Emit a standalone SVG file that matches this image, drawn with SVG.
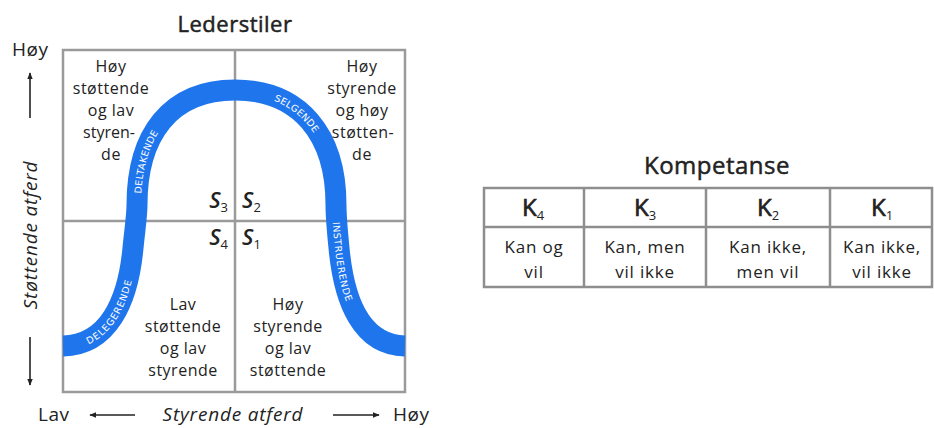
<svg xmlns="http://www.w3.org/2000/svg" width="934" height="428" viewBox="0 0 934 428">
  <defs>
    <style>
      .t { font-family: "Open Sans", "DejaVu Sans", sans-serif; fill: #222; }
      .q { font-size: 16px; text-anchor: middle; letter-spacing: 0.5px; }
      .title { font-size: 22px; text-anchor: middle; letter-spacing: 0.5px; stroke: #222; stroke-width: 0.5px; }
      .s { font-size: 22px; font-style: italic; font-weight: 600; }
      .sub { font-size: 13px; font-style: normal; font-weight: 400; }
      .ax { font-size: 19px; letter-spacing: 0.5px; }
      .axi { font-size: 19px; font-style: italic; letter-spacing: 0.8px; }
      .grid { stroke: #9a9a9a; stroke-width: 2.5; fill: none; }
      .tbl { stroke: #8e8e8e; stroke-width: 2.5; fill: none; }
      .curveLbl { font-family: "DejaVu Sans", sans-serif; font-size: 9.5px; fill: #ffffff; letter-spacing: 0.5px; }
      .arr { stroke: #222; stroke-width: 1.6; fill: none; }
      .k { font-size: 24px; text-anchor: middle; stroke: #222; stroke-width: 0.7px; }
      .ksub { font-size: 13px; stroke-width: 0; }
      .cell { font-size: 17px; text-anchor: middle; letter-spacing: 0.8px; }
    </style>
    <marker id="ah" viewBox="0 0 10 10" refX="9" refY="5" markerWidth="7" markerHeight="7" orient="auto-start-reverse" markerUnits="userSpaceOnUse">
      <path d="M0,1 L10,5 L0,9 z" fill="#222"/>
    </marker>
    <path id="bell" d="M63,346 C108,345 128,302 133,248 C135,228 137,215 137,205 C137,135 170,90 235,90 C300,90 336,135 336,205 C336,215 337,228 339,248 C344,302 362,345 405,346"/>
  </defs>

  <rect width="934" height="428" fill="#ffffff"/>

  <!-- Leadership styles chart -->
  <g id="leadership">
    <text class="t title" x="235" y="32">Lederstiler</text>
    <rect class="grid" x="63" y="50" width="342" height="342"/>
    <line class="grid" x1="235" y1="50" x2="235" y2="392"/>
    <line class="grid" x1="63" y1="221" x2="405" y2="221"/>

    <use href="#bell" fill="none" stroke="#1f76ec" stroke-width="21"/>
    <text class="curveLbl" dominant-baseline="central">
      <textPath href="#bell" startOffset="3.5%">DELEGERENDE</textPath>
    </text>
    <text class="curveLbl" dominant-baseline="central">
      <textPath href="#bell" startOffset="27%">DELTAKENDE</textPath>
    </text>
    <text class="curveLbl" dominant-baseline="central">
      <textPath href="#bell" startOffset="56%">SELGENDE</textPath>
    </text>
    <text class="curveLbl" dominant-baseline="central">
      <textPath href="#bell" startOffset="77.5%">INSTRUERENDE</textPath>
    </text>
  </g>

  <g id="quadrant-s3">
    <text class="t q"><tspan x="111" y="72">Høy</tspan><tspan x="111" y="94">støttende</tspan><tspan x="111" y="116">og lav</tspan><tspan x="109" y="138" letter-spacing="0">styren-</tspan><tspan x="111" y="160">de</tspan></text>
    <text class="t s" x="228" y="208" text-anchor="end">S<tspan class="sub" dy="4">3</tspan></text>
  </g>
  <g id="quadrant-s2">
    <text class="t q"><tspan x="362" y="72">Høy</tspan><tspan x="362" y="94">styrende</tspan><tspan x="362" y="116">og høy</tspan><tspan x="363" y="138">støtten-</tspan><tspan x="362" y="160">de</tspan></text>
    <text class="t s" x="242" y="208">S<tspan class="sub" dy="4">2</tspan></text>
  </g>
  <g id="quadrant-s4">
    <text class="t q"><tspan x="183" y="310">Lav</tspan><tspan x="183" y="332">støttende</tspan><tspan x="183" y="354">og lav</tspan><tspan x="183" y="376">styrende</tspan></text>
    <text class="t s" x="228" y="245" text-anchor="end">S<tspan class="sub" dy="4">4</tspan></text>
  </g>
  <g id="quadrant-s1">
    <text class="t q"><tspan x="288" y="310">Høy</tspan><tspan x="288" y="332">styrende</tspan><tspan x="288" y="354">og lav</tspan><tspan x="288" y="376">støttende</tspan></text>
    <text class="t s" x="242" y="245">S<tspan class="sub" dy="4">1</tspan></text>
  </g>

  <!-- Axes -->
  <g id="axis-y">
    <text class="t ax" x="12" y="56">Høy</text>
    <text class="t axi" transform="translate(37,235) rotate(-90)" text-anchor="middle">Støttende atferd</text>
  </g>
  <g id="axis-x">
    <text class="t ax" x="38" y="421">Lav</text>
    <text class="t axi" x="233" y="421" text-anchor="middle">Styrende atferd</text>
    <text class="t ax" x="393" y="421">Høy</text>
  </g>
  <g id="connectors">
    <line class="arr" x1="30" y1="118" x2="30" y2="73" marker-end="url(#ah)"/>
    <line class="arr" x1="30" y1="337" x2="30" y2="385" marker-end="url(#ah)"/>
    <line class="arr" x1="135" y1="415" x2="90" y2="415" marker-end="url(#ah)"/>
    <line class="arr" x1="333" y1="415" x2="379" y2="415" marker-end="url(#ah)"/>
  </g>

  <!-- Competence table -->
  <g id="competence">
    <text class="t title" x="717" y="174" style="font-size:24px">Kompetanse</text>
    <rect class="tbl" x="484" y="188" width="448" height="99"/>
    <line class="tbl" x1="484" y1="227" x2="932" y2="227"/>
    <line class="tbl" x1="584" y1="188" x2="584" y2="287"/>
    <line class="tbl" x1="706" y1="188" x2="706" y2="287"/>
    <line class="tbl" x1="830" y1="188" x2="830" y2="287"/>
  </g>
  <g id="k4">
    <text class="t k" x="533" y="216">K<tspan class="ksub" dy="4">4</tspan></text>
    <text class="t cell"><tspan x="534" y="253">Kan og</tspan><tspan x="534" y="278">vil</tspan></text>
  </g>
  <g id="k3">
    <text class="t k" x="645" y="216">K<tspan class="ksub" dy="4">3</tspan></text>
    <text class="t cell"><tspan x="645" y="253">Kan, men</tspan><tspan x="645" y="278">vil ikke</tspan></text>
  </g>
  <g id="k2">
    <text class="t k" x="768" y="216">K<tspan class="ksub" dy="4">2</tspan></text>
    <text class="t cell"><tspan x="768" y="253">Kan ikke,</tspan><tspan x="768" y="278">men vil</tspan></text>
  </g>
  <g id="k1">
    <text class="t k" x="882" y="216">K<tspan class="ksub" dy="4">1</tspan></text>
    <text class="t cell"><tspan x="882" y="253">Kan ikke,</tspan><tspan x="882" y="278">vil ikke</tspan></text>
  </g>
</svg>
